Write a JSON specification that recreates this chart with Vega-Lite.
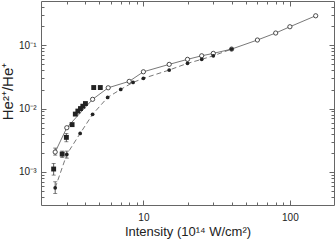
{
  "$schema": "https://vega.github.io/schema/vega-lite/v6.json",
  "autosize": {"type": "none"},
  "padding": {"left": 41, "top": 1, "right": 1, "bottom": 37},
  "width": 293,
  "height": 204,
  "background": "white",
  "config": {
    "view": {"stroke": null},
    "axis": {
      "grid": false,
      "labelFont": "Liberation Sans",
      "titleFont": "Liberation Sans",
      "labelColor": "#222",
      "titleColor": "#222",
      "titleFontWeight": "normal",
      "tickColor": "#666",
      "domainColor": "#666",
      "labelFontSize": 10,
      "titleFontSize": 13
    }
  },
  "datasets": {
    "open": [
      {"x": 2.5, "y": 0.00206}, {"x": 3, "y": 0.00498}, {"x": 4.5, "y": 0.014},
      {"x": 5.75, "y": 0.0213}, {"x": 8, "y": 0.0269}, {"x": 10, "y": 0.0381},
      {"x": 15, "y": 0.0499}, {"x": 20, "y": 0.0599}, {"x": 25, "y": 0.0682},
      {"x": 30, "y": 0.0744}, {"x": 40, "y": 0.087}, {"x": 60, "y": 0.121},
      {"x": 80, "y": 0.156}, {"x": 100, "y": 0.196}, {"x": 150, "y": 0.292}
    ],
    "filled": [
      {"x": 2.5, "y": 0.00056}, {"x": 3, "y": 0.00189}, {"x": 3.7, "y": 0.00405},
      {"x": 4.5, "y": 0.0081}, {"x": 5.7, "y": 0.015}, {"x": 7, "y": 0.0201},
      {"x": 8.5, "y": 0.0259}, {"x": 10, "y": 0.03}, {"x": 15, "y": 0.0406},
      {"x": 20, "y": 0.0518}, {"x": 25, "y": 0.0599}, {"x": 30, "y": 0.0682},
      {"x": 40, "y": 0.087}
    ],
    "squares": [
      {"x": 2.44, "y": 0.00111}, {"x": 2.79, "y": 0.00191}, {"x": 2.98, "y": 0.00351},
      {"x": 3.26, "y": 0.00558}, {"x": 3.43, "y": 0.00819}, {"x": 3.57, "y": 0.00913},
      {"x": 3.72, "y": 0.01}, {"x": 3.86, "y": 0.0109}, {"x": 4.02, "y": 0.012},
      {"x": 4.58, "y": 0.0215}, {"x": 5.08, "y": 0.0215}
    ],
    "errors": [
      {"x": 2.44, "lo": 0.00089, "hi": 0.00136},
      {"x": 2.79, "lo": 0.00169, "hi": 0.00213},
      {"x": 2.98, "lo": 0.00299, "hi": 0.00405},
      {"x": 2.5, "lo": 0.000457, "hi": 0.000698},
      {"x": 3, "lo": 0.00165, "hi": 0.00213},
      {"x": 2.5, "lo": 0.00184, "hi": 0.00238}
    ]
  },
  "resolve": {"axis": {"x": "independent", "y": "independent"}},
  "layer": [
    {
      "data": {"name": "errors"},
      "mark": {"type": "errorbar", "ticks": {"size": 4}, "color": "#333", "thickness": 0.8},
      "encoding": {
        "x": {"field": "x", "type": "quantitative", "scale": {"type": "log", "domain": [2, 200]}, "axis": null},
        "y": {"field": "lo", "type": "quantitative", "scale": {"type": "log", "domain": [0.0003, 0.5]}, "axis": null},
        "y2": {"field": "hi"}
      }
    },
    {
      "data": {"name": "open"},
      "mark": {"type": "line", "color": "#555", "strokeWidth": 0.8},
      "encoding": {
        "x": {"field": "x", "type": "quantitative", "scale": {"type": "log", "domain": [2, 200]},
          "axis": {"orient": "bottom", "values": [10, 100], "tickSize": -5, "labelPadding": 12,
            "labelExpr": "datum.value >= 100 ? '100' : '10'",
            "title": "Intensity (10¹⁴ W/cm²)", "titleBaseline": "alphabetic", "titleY": 30}},
        "y": {"field": "y", "type": "quantitative", "scale": {"type": "log", "domain": [0.0003, 0.5]},
          "axis": {"orient": "left", "values": [0.001, 0.01, 0.1], "tickSize": -5, "labelPadding": 10,
            "labelExpr": "datum.value < 0.005 ? '10⁻³' : datum.value < 0.05 ? '10⁻²' : '10⁻¹'",
            "title": "He²⁺/He⁺", "titleFontSize": 15, "titleBaseline": "alphabetic", "titleX": -29, "titleY": 90}}
      }
    },
    {
      "data": {"name": "filled"},
      "mark": {"type": "line", "color": "#555", "strokeWidth": 0.8, "strokeDash": [5, 3]},
      "encoding": {
        "x": {"field": "x", "type": "quantitative", "scale": {"type": "log", "domain": [2, 200]},
          "axis": {"orient": "bottom", "values": [3, 4, 5, 6, 7, 8, 9, 20, 30, 40, 50, 60, 70, 80, 90], "tickSize": -3, "labels": false, "domain": false, "title": null}},
        "y": {"field": "y", "type": "quantitative", "scale": {"type": "log", "domain": [0.0003, 0.5]},
          "axis": {"orient": "left", "values": [0.0004, 0.0005, 0.0006, 0.0007, 0.0008, 0.0009, 0.002, 0.003, 0.004, 0.005, 0.006, 0.007, 0.008, 0.009, 0.02, 0.03, 0.04, 0.05, 0.06, 0.07, 0.08, 0.09, 0.2, 0.3, 0.4], "tickSize": -3, "labels": false, "domain": false, "title": null}}
      }
    },
    {
      "data": {"name": "open"},
      "mark": {"type": "point", "shape": "circle", "fill": "white", "filled": true, "stroke": "#222", "strokeWidth": 0.8, "size": 18, "opacity": 1},
      "encoding": {
        "x": {"field": "x", "type": "quantitative", "scale": {"type": "log", "domain": [2, 200]},
          "axis": {"orient": "top", "values": [10, 100], "tickSize": -5, "labels": false, "title": null}},
        "y": {"field": "y", "type": "quantitative", "scale": {"type": "log", "domain": [0.0003, 0.5]},
          "axis": {"orient": "right", "values": [0.001, 0.01, 0.1], "tickSize": -5, "labels": false, "title": null}}
      }
    },
    {
      "data": {"name": "filled"},
      "mark": {"type": "point", "shape": "circle", "filled": true, "color": "#222", "size": 14, "opacity": 1},
      "encoding": {
        "x": {"field": "x", "type": "quantitative", "scale": {"type": "log", "domain": [2, 200]},
          "axis": {"orient": "top", "values": [3, 4, 5, 6, 7, 8, 9, 20, 30, 40, 50, 60, 70, 80, 90], "tickSize": -3, "labels": false, "domain": false, "title": null}},
        "y": {"field": "y", "type": "quantitative", "scale": {"type": "log", "domain": [0.0003, 0.5]},
          "axis": {"orient": "right", "values": [0.0004, 0.0005, 0.0006, 0.0007, 0.0008, 0.0009, 0.002, 0.003, 0.004, 0.005, 0.006, 0.007, 0.008, 0.009, 0.02, 0.03, 0.04, 0.05, 0.06, 0.07, 0.08, 0.09, 0.2, 0.3, 0.4], "tickSize": -3, "labels": false, "domain": false, "title": null}}
      }
    },
    {
      "data": {"name": "squares"},
      "mark": {"type": "point", "shape": "square", "filled": true, "color": "#222", "size": 24, "opacity": 1},
      "encoding": {
        "x": {"field": "x", "type": "quantitative", "scale": {"type": "log", "domain": [2, 200]}, "axis": null},
        "y": {"field": "y", "type": "quantitative", "scale": {"type": "log", "domain": [0.0003, 0.5]}, "axis": null}
      }
    }
  ]
}
